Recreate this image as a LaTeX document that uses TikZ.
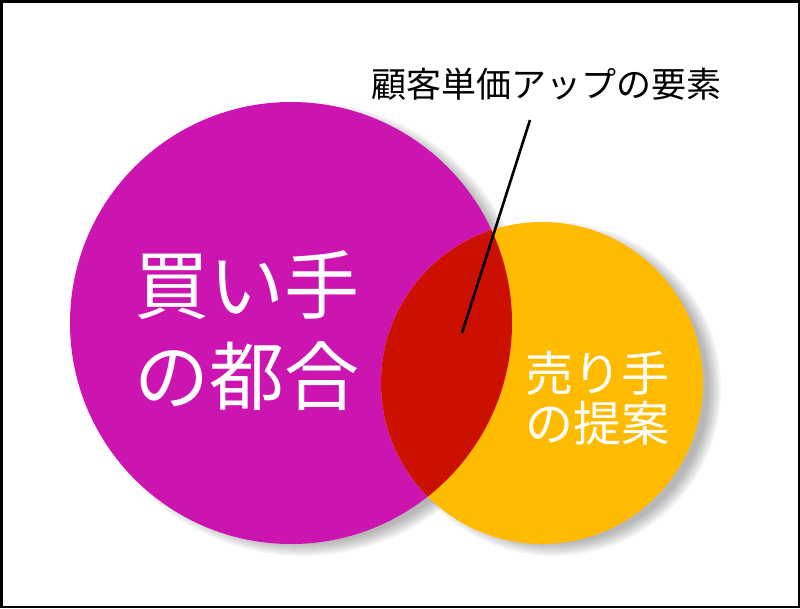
\documentclass[tikz,border=0pt]{standalone}
\usepackage{fontspec}
\setmainfont{Noto Sans CJK JP}
\definecolor{magc}{RGB}{204,20,176}
\definecolor{orgc}{RGB}{255,187,0}
\definecolor{isecc}{RGB}{204,16,0}
\tikzset{
  shadowlayer/.style={fill=black, fill opacity=0.045},
  bigtext/.style={text=white, align=center, inner sep=0pt, font=\fontsize{75}{91}\selectfont},
  smalltext/.style={text=white, align=center, inner sep=0pt, font=\fontsize{48}{50}\selectfont},
  labeltext/.style={text=black, inner sep=0pt, font=\fontsize{35}{40}\selectfont},
  leader/.style={line width=2.6pt, black}
}
\begin{document}
\begin{tikzpicture}[x=1pt,y=-1pt]
\useasboundingbox (0,0) rectangle (800,608);
\fill[white] (0,0) rectangle (800,608);
% centres
\coordinate (buyc) at (291,323);
\coordinate (sellc) at (542,383);
\coordinate (buysh) at (303,329);
\coordinate (sellsh) at (554,389);
% soft shadows
\foreach \k in {-6,-4,...,6} {
  \fill[shadowlayer] (buysh) circle[radius={221pt+\k pt}];
  \fill[shadowlayer] (sellsh) circle[radius={161pt+\k pt}];
}
% circles
\fill[magc] (buyc) circle[radius=221pt];
\fill[orgc] (sellc) circle[radius=161pt];
\begin{scope}
  \clip (sellc) circle[radius=161pt];
  \fill[isecc] (buyc) circle[radius=221pt];
\end{scope}
% texts
\node[bigtext] (buy) at (247,331) {買い手\\の都合};
\node[smalltext] (sell) at (597,398) {売り手\\の提案};
\node[labeltext] (lbl) at (546,84) {顧客単価アップの要素};
\coordinate (lead) at (530,120);
\coordinate (spot) at (462,333);
\draw[leader] (lead) -- (spot);
% frame
\draw[line width=2.5pt] (1.25,1.25) rectangle (798.75,606.75);
\end{tikzpicture}
\end{document}
